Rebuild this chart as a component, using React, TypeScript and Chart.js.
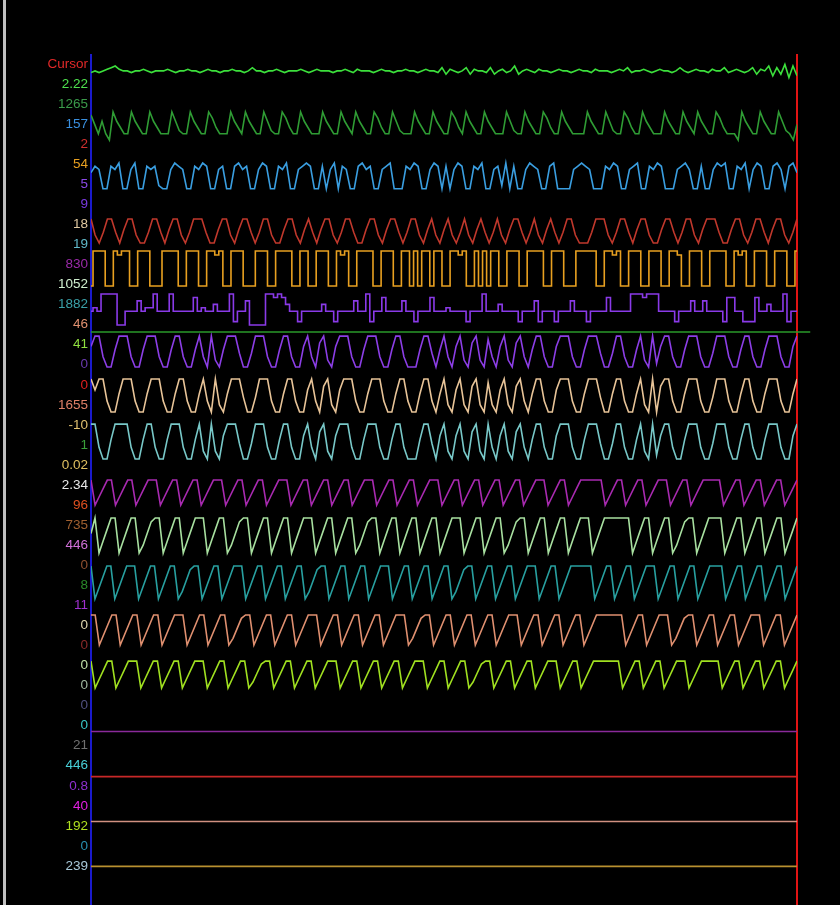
import React, { useEffect, useRef } from 'react';
import { Chart, registerables } from 'chart.js';
Chart.register(...registerables);

// ---- left value column (one label per row) ----
const rowLabels = ['Cursor','2.22','1265','157','2','54','5','9','18','19','830','1052','1882','46','41','0','0','1655','-10','1','0.02','2.34','96','735','446','0','8','11','0','0','0','0','0','0','21','446','0.8','40','192','0','239'];
const rowColors = ['#e02828','#4ee04e','#3a9a4a','#3a90e0','#d03030','#e8a020','#8a4ae8','#7a3ae0','#e0c8a0','#60b8c8','#9a2aa8','#d0f0d0','#3aa0a8','#e09070','#90e040','#6a3ab0','#e02020','#e08068','#e0c070','#3aa03a','#e0c060','#e8e8e8','#e05020','#a06030','#d070d8','#905030','#2a8a2a','#a030d0','#e0d8b0','#8a2a2a','#c0e0a8','#a0b8a0','#505080','#38c8c8','#707070','#48d0d8','#9030d0','#e020e0','#b0e020','#2890b0','#a8c8d8'];

// ---- signal samples (levels 0..9) ----
const wCursor = [4,5,4,5,6,7,8,6,5,5,4,5,5,6,5,4,5,5,5,6,5,4,5,5,6,5,5,4,5,6,5,5,4,5,5,6,5,5,4,5,7,5,5,4,5,5,6,5,4,5,5,5,6,5,4,5,6,5,5,5,4,5,5,6,5,4,6,5,5,5,4,5,6,5,5,4,5,5,6,5,5,4,5,6,5,5,4,7,3,6,5,4,5,7,3,6,5,5,4,7,3,5,6,4,5,8,3,5,6,5,4,6,5,5,4,5,6,5,5,4,5,6,5,5,4,6,5,5,5,4,5,6,5,7,4,5,5,6,5,4,5,6,5,5,4,5,7,5,4,5,6,5,5,4,6,5,5,7,4,5,6,5,4,5,7,3,6,5,8,2,7,3,9,1,8,2];
const wDarkGreen = [8,5,2,6,2,0,9,6,4,2,2,9,6,4,2,2,9,6,4,2,2,2,9,6,3,2,2,9,6,4,2,2,9,7,4,2,2,2,9,6,4,2,9,6,4,2,2,9,6,3,2,2,9,7,4,2,2,9,6,4,2,2,2,9,6,4,2,2,9,6,4,2,9,6,4,2,2,9,7,4,2,2,9,6,3,2,2,2,9,6,4,2,2,9,6,4,2,2,9,7,4,2,9,6,4,2,2,9,6,4,2,2,2,9,6,3,2,2,9,6,4,2,2,9,7,4,2,2,9,6,4,2,2,2,2,9,6,4,2,2,9,6,3,2,2,9,7,4,2,2,9,6,4,2,2,2,9,6,4,2,2,9,6,4,2,9,6,4,2,2,9,7,4,2,2,2,0,9,6,4,2,2,9,6,4,2,2,9,6,3,2,0,5];
const wBlue = [6,8,7,1,1,8,7,9,1,1,7,9,1,1,8,7,8,2,1,1,7,9,8,7,1,1,8,7,9,8,1,1,7,8,1,1,8,9,7,8,1,1,7,9,8,1,1,8,7,9,1,1,7,8,9,8,1,1,8,1,7,9,1,8,7,1,1,8,9,7,8,1,1,7,8,9,1,1,1,8,7,9,8,1,1,7,9,8,1,8,1,7,9,8,1,1,8,7,9,1,1,7,8,2,9,1,8,1,1,7,9,8,7,1,1,8,9,1,1,1,1,7,8,9,8,7,1,1,1,8,7,9,8,1,1,7,8,9,1,1,8,7,9,8,1,1,1,7,8,9,7,1,1,8,1,1,7,9,8,9,1,1,8,7,9,1,7,9,8,1,1,8,9,7,1,8,9,6];
const wRed = [9,3,0,4,9,9,4,0,5,9,9,3,0,0,4,9,9,4,0,5,9,9,3,0,4,9,9,9,4,0,0,5,9,9,3,0,5,9,9,4,0,4,9,9,3,0,0,5,9,9,3,0,5,9,4,0,5,9,9,3,0,4,9,9,4,0,0,5,9,9,3,0,5,9,9,4,0,4,9,9,3,0,5,9,3,0,5,9,3,0,4,9,3,0,5,9,4,0,4,9,3,0,5,9,9,4,0,4,9,3,0,5,9,4,0,4,9,9,3,0,0,0,4,9,9,9,3,0,4,9,9,4,0,5,9,9,3,0,0,5,9,9,4,0,4,9,9,3,0,5,9,9,9,4,0,0,5,9,9,3,0,4,9,9,4,0,5,9,9,3,0,4,9];
const wOrange = [0,9,9,9,0,0,9,8,9,9,0,0,9,9,9,0,0,0,9,9,9,9,0,0,9,9,9,0,0,9,9,8,9,0,0,9,9,9,0,0,0,9,9,9,0,0,9,9,9,9,0,0,9,9,0,0,9,9,9,0,0,9,8,9,0,0,9,9,9,9,0,0,9,9,9,0,0,9,9,0,9,0,9,9,0,9,9,0,0,9,9,8,9,0,0,9,0,9,0,9,9,0,0,9,9,9,0,0,9,9,9,9,0,0,9,9,9,0,0,0,9,9,9,9,9,0,0,9,9,8,9,0,0,9,9,9,0,0,9,9,9,0,0,9,9,8,0,0,9,9,9,0,0,9,9,9,9,0,0,9,8,9,0,0,9,9,9,0,0,9,9,9,0,0,9];
const wStep = [4,5,4,9,9,9,9,0,0,4,4,4,7,4,5,5,9,4,4,4,9,4,4,4,4,4,8,4,5,4,4,6,4,4,4,9,1,4,4,7,0,0,0,0,9,9,8,9,8,6,4,4,1,4,4,4,4,4,6,4,4,1,4,4,4,4,7,4,4,9,1,4,4,8,4,4,4,4,7,4,4,1,4,4,4,8,4,4,4,5,4,4,4,4,1,4,4,4,9,4,4,4,6,4,4,4,4,1,4,4,4,7,1,4,4,4,1,4,4,4,7,4,4,4,1,4,4,4,4,8,4,4,4,4,4,9,9,9,8,9,9,9,4,4,4,4,1,4,4,4,7,4,4,7,4,4,4,4,1,8,8,4,4,1,1,1,8,4,4,6,4,4,4,9,1,4,4];
const wPurple = [6,9,9,3,0,0,5,9,9,9,3,0,0,5,9,9,9,3,0,0,5,9,9,3,0,0,5,9,3,0,9,2,0,5,9,9,9,4,0,0,4,9,9,9,3,0,0,5,9,9,3,0,0,6,9,3,0,7,9,2,0,6,9,9,9,3,0,0,5,9,9,9,3,0,0,5,9,9,3,0,0,0,5,9,9,4,0,5,9,3,0,6,9,2,0,7,9,2,0,8,3,0,6,9,2,0,7,9,3,0,5,9,9,3,0,0,6,9,9,9,3,0,0,5,9,9,9,4,0,0,4,9,9,3,0,0,5,9,2,0,9,1,6,9,9,3,0,0,5,9,9,9,3,0,0,4,9,9,9,3,0,0,5,9,9,3,0,0,5,9,9,9,3,0,0,6,9];
const wTan = [9,6,9,9,3,0,0,5,9,9,9,3,0,0,5,9,9,9,3,0,0,5,9,9,3,0,0,5,9,3,0,9,2,0,5,9,9,9,4,0,0,4,9,9,9,3,0,0,5,9,9,3,0,0,6,9,3,0,7,9,2,0,6,9,9,9,3,0,0,5,9,9,9,3,0,0,5,9,9,3,0,0,5,9,9,3,0,5,9,2,0,6,9,2,0,7,9,2,0,8,2,0,6,9,2,0,7,9,3,0,5,9,9,3,0,0,6,9,9,9,3,0,0,5,9,9,9,4,0,0,5,9,9,3,0,0,5,9,2,0,9,0,7,9,9,3,0,0,5,9,9,9,3,0,0,4,9,9,9,3,0,0,5,9,9,3,0,0,5,9,9,9,3,0,0,5,9];
const wTeal = [9,9,3,0,0,5,9,9,9,9,3,0,0,5,9,9,3,0,0,5,9,9,9,3,0,0,5,9,2,0,9,2,0,6,9,9,9,4,0,0,4,9,9,9,3,0,0,5,9,9,3,0,0,6,9,3,0,7,9,2,0,6,9,9,9,3,0,0,5,9,9,9,3,0,0,5,9,9,3,0,0,0,5,9,9,4,0,6,9,2,0,6,9,2,0,7,9,2,0,9,3,0,6,9,2,0,7,9,3,0,5,9,9,3,0,0,6,9,9,9,3,0,0,5,9,9,9,4,0,0,4,9,9,3,0,0,5,9,2,0,9,1,6,9,9,3,0,0,5,9,9,9,3,0,0,4,9,9,9,3,0,0,5,9,9,3,0,0,5,9,9,9,3,0,0,6,9];
const wMagenta = [9,0,3,6,9,9,0,3,6,9,9,0,3,6,9,9,9,0,3,6,9,9,0,3,6,9,9,0,3,6,9,9,9,0,3,6,9,9,0,3,6,9,9,0,3,6,9,9,9,0,3,6,9,9,0,3,6,9,9,0,3,6,9,9,0,3,6,9,9,9,0,3,6,9,9,0,3,6,9,9,0,3,6,9,9,9,0,3,6,9,9,0,3,6,9,9,0,3,6,9,9,0,3,6,9,9,0,3,6,9,9,9,0,3,6,9,9,0,3,6,9,9,9,9,9,9,0,3,6,9,9,0,3,6,9,9,0,3,6,9,9,9,0,3,6,9,9,0,3,6,9,9,9,9,9,0,3,6,9,9,0,3,6,9,9,0,3,6,9,9,0,3,6,9];
const wPaleGreen = [5,9,0,3,6,9,9,0,3,6,9,9,0,2,5,8,9,9,0,3,6,9,9,0,3,6,9,9,9,0,3,6,9,9,0,2,5,8,9,9,0,3,6,9,9,0,3,6,9,9,0,3,6,9,9,9,0,3,6,9,9,0,3,6,9,9,0,2,5,8,9,9,0,3,6,9,9,0,3,6,9,9,0,3,6,9,9,0,3,6,9,9,9,0,3,6,9,9,0,3,6,9,9,0,2,5,8,9,9,0,3,6,9,9,0,3,6,9,9,0,3,6,9,9,9,0,3,6,9,9,9,9,9,9,9,0,3,6,9,9,0,3,6,9,9,0,2,5,8,9,9,0,3,6,9,9,9,9,0,3,6,9,9,0,3,6,9,9,0,3,6,9,9,0,3,6,9];
const wDarkTeal = [9,0,3,6,9,9,0,3,6,9,9,9,0,3,6,9,9,0,3,6,9,9,0,2,5,8,9,9,0,3,6,9,9,0,3,6,9,9,9,0,3,6,9,9,0,3,6,9,9,0,3,6,9,9,0,2,5,8,9,9,0,3,6,9,9,0,3,6,9,9,0,3,6,9,9,9,0,3,6,9,9,0,3,6,9,9,0,3,6,9,9,0,2,5,8,9,9,0,3,6,9,9,0,3,6,9,9,0,3,6,9,9,9,0,3,6,9,9,0,3,6,9,9,9,9,9,9,0,3,6,9,9,0,3,6,9,9,0,3,6,9,9,9,0,3,6,9,9,0,3,6,9,9,0,3,6,9,9,9,9,0,3,6,9,9,0,3,6,9,9,0,3,6,9,9,0,3,6,9];
const wSalmon = [9,9,0,3,6,9,9,0,3,6,9,9,0,3,6,9,9,0,3,6,9,9,9,0,3,6,9,9,0,3,6,9,9,0,2,5,8,9,9,0,3,6,9,9,0,3,6,9,9,0,3,6,9,9,9,0,3,6,9,9,0,3,6,9,9,0,3,6,9,9,0,3,6,9,9,9,0,2,5,8,9,9,0,3,6,9,9,0,3,6,9,9,0,3,6,9,9,0,3,6,9,9,9,0,3,6,9,9,0,3,6,9,9,0,3,6,9,9,0,3,6,9,9,9,9,9,9,9,0,3,6,9,9,0,3,6,9,9,9,0,2,5,8,9,9,0,3,6,9,9,0,3,6,9,9,0,3,6,9,9,9,0,3,6,9,9,0,3,6,9];
const wLime = [9,0,3,6,9,9,0,3,6,9,9,9,0,3,6,9,9,0,3,6,9,9,0,3,6,9,9,9,0,3,6,9,9,0,3,6,9,9,0,2,5,8,9,9,0,3,6,9,9,0,3,6,9,9,0,3,6,9,9,9,0,3,6,9,9,0,3,6,9,9,0,3,6,9,9,0,3,6,9,9,9,0,3,6,9,9,0,3,6,9,9,0,2,5,8,9,9,0,3,6,9,9,0,3,6,9,9,0,3,6,9,9,9,0,3,6,9,9,0,3,6,9,9,9,9,9,9,9,0,3,6,9,9,0,3,6,9,9,0,3,6,9,9,9,0,3,6,9,9,9,9,9,0,3,6,9,9,0,3,6,9,9,0,3,6,9,9,0,3,6,9];
const wFlat = [0, 0];

// ---- layout of the traces on the row axis (row units), colours, styles ----
const ROW_MIN = -0.449;
const ROW_MAX = 41.945;
const X_MAX = 176;
const traces = [
  { data: wCursor, hi: 0.02, lo: 0.75, color: '#3ce03c' },
  { data: wDarkGreen, hi: 2.39, lo: 3.79, color: '#2f9c34' },
  { data: wBlue, hi: 4.94, lo: 6.38, color: '#3a9ee0' },
  { data: wRed, hi: 7.73, lo: 8.93, color: '#c0382c' },
  { data: wOrange, hi: 9.33, lo: 11.07, color: '#e8a020', stepped: 'middle' },
  { data: wStep, hi: 11.47, lo: 13.02, color: '#8a3ae8', stepped: 'middle' },
  { data: wFlat, hi: 13.37, lo: 13.37, color: '#2a9a2a', extend: 3.3 },
  { data: wPurple, hi: 13.57, lo: 15.11, color: '#8c3ee6' },
  { data: wTan, hi: 15.71, lo: 17.36, color: '#e8c498' },
  { data: wTeal, hi: 17.96, lo: 19.7, color: '#78c8c8' },
  { data: wMagenta, hi: 20.75, lo: 22.0, color: '#a82ab0' },
  { data: wPaleGreen, hi: 22.64, lo: 24.39, color: '#a8e0a0' },
  { data: wDarkTeal, hi: 25.04, lo: 26.68, color: '#28a0a0' },
  { data: wSalmon, hi: 27.48, lo: 28.98, color: '#e09070' },
  { data: wLime, hi: 29.78, lo: 31.12, color: '#a0e020' },
  { data: wFlat, hi: 33.29, lo: 33.29, color: '#8a2a9a' },
  { data: wFlat, hi: 35.54, lo: 35.54, color: '#c82828' },
  { data: wFlat, hi: 37.78, lo: 37.78, color: '#d09080' },
  { data: wFlat, hi: 40.02, lo: 40.02, color: '#b89030' },
];

const LABEL_FONT = "'Liberation Sans Narrow', 'Liberation Sans', Arial, sans-serif";

export default function App() {
  const ref = useRef<HTMLCanvasElement | null>(null);
  useEffect(() => {
    document.body.style.margin = '0';
    document.body.style.background = '#000';
    const canvas = ref.current;
    if (!canvas) return;
    const datasets = traces.map((t) => {
      const n = t.data.length;
      const span = X_MAX + (t.extend || 0);
      const pts = t.data.map((v, i) => ({ x: (i * span) / (n - 1), y: t.lo - (v / 9) * (t.lo - t.hi) }));
      return {
        data: pts,
        borderColor: t.color,
        backgroundColor: t.color,
        borderWidth: 1.6,
        pointRadius: t.extend ? pts.map((_, i) => (i === n - 1 ? 2.2 : 0)) : 0,
        pointHoverRadius: 0,
        pointBorderWidth: 0,
        tension: 0,
        stepped: (t as any).stepped || false,
        clip: t.extend ? (false as any) : 0,
        xAxisID: 'x',
        yAxisID: 'yL',
      };
    });
    const chart = new Chart(canvas, {
      type: 'line',
      data: { datasets },
      options: {
        animation: false,
        responsive: false,
        maintainAspectRatio: false,
        events: [],
        layout: { autoPadding: false, padding: { left: 0, right: 43, top: 55, bottom: 0 } },
        plugins: { legend: { display: false }, tooltip: { enabled: false } },
        scales: {
          x: { type: 'linear', min: 0, max: X_MAX, display: false },
          yL: {
            type: 'linear',
            position: 'left',
            min: ROW_MIN,
            max: ROW_MAX,
            reverse: true,
            afterBuildTicks: (axis: any) => {
              axis.ticks = rowLabels.map((_, i) => ({ value: i }));
            },
            afterFit: (axis: any) => {
              axis.width = 91;
              axis.paddingTop = 0;
              axis.paddingBottom = 0;
            },
            grid: { display: false, drawTicks: false },
            border: { display: true, color: '#1a1acc', width: 2 },
            ticks: {
              autoSkip: false,
              padding: 3,
              color: (ctx: any) => rowColors[ctx.index] || '#fff',
              font: { family: LABEL_FONT, size: 13.5 },
              callback: (_v: any, i: number) => rowLabels[i],
            },
          },
          yR: {
            type: 'linear',
            position: 'right',
            min: 0,
            max: 1,
            grid: { display: false, drawTicks: false },
            ticks: { display: false },
            border: { display: true, color: '#e01414', width: 2 },
            afterFit: (axis: any) => {
              axis.width = 0;
              axis.paddingTop = 0;
              axis.paddingBottom = 0;
            },
          },
        },
      } as any,
    });
    return () => chart.destroy();
  }, []);
  return (
    <div style={{ position: 'relative', width: 840, height: 905, background: '#000', overflow: 'hidden' }}>
      <div style={{ position: 'absolute', left: 3, top: 0, width: 3, height: 905, background: '#c0c0c0' }} />
      <canvas ref={ref} width={840} height={905} style={{ position: 'absolute', left: 0, top: 0, width: 840, height: 905 }} />
    </div>
  );
}
